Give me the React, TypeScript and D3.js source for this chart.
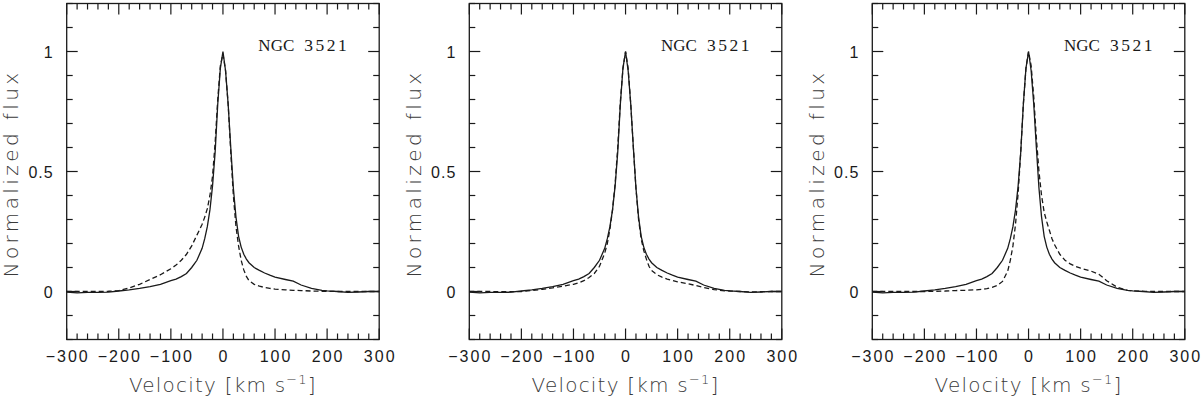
import * as d3 from "d3";

// velocity grid in km/s shared by all profiles
const velocity = [
  -300, -280, -260, -240, -220, -200, -180, -160, -140, -120, -100, -90, -80, -70, -60, -50, -40, -35, -30, -25,
  -20, -15, -10, -5, 0, 5, 10, 15, 20, 25, 30, 35, 40, 45, 50, 60, 70, 80, 90, 100, 120, 135, 150, 170, 190, 200,
  220, 240, 260, 280, 300,
];

// observed profile (solid), same in every panel
const observed = [
  -0.003, -0.006, -0.004, -0.004, -0.003, 0.002, 0.007, 0.013, 0.02, 0.03, 0.045, 0.052, 0.062, 0.075, 0.1, 0.13,
  0.18, 0.22, 0.27, 0.34, 0.44, 0.58, 0.78, 0.93, 1.0, 0.92, 0.78, 0.6, 0.43, 0.31, 0.23, 0.185, 0.155, 0.135, 0.12,
  0.1, 0.088, 0.077, 0.068, 0.06, 0.05, 0.043, 0.027, 0.013, 0.005, 0.003, 0.0, -0.004, -0.002, 0.0, 0.0,
];

// model profiles (dashed), one per panel
const model1 = [
  0, 0, 0, 0, 0.001, 0.004, 0.015, 0.03, 0.05, 0.07, 0.095, 0.11, 0.13, 0.155, 0.19, 0.235, 0.28, 0.31, 0.345, 0.4,
  0.48, 0.62, 0.8, 0.94, 0.99, 0.92, 0.78, 0.58, 0.4, 0.27, 0.19, 0.13, 0.09, 0.063, 0.045, 0.03, 0.022, 0.017,
  0.013, 0.01, 0.007, 0.005, 0.004, 0.002, 0.001, 0.001, 0, 0, 0, 0, 0,
];
const model2 = [
  0, 0, 0, -0.001, -0.001, 0, 0.004, 0.009, 0.015, 0.022, 0.03, 0.036, 0.045, 0.058, 0.075, 0.105, 0.16, 0.2, 0.26,
  0.34, 0.45, 0.6, 0.79, 0.93, 1.0, 0.93, 0.78, 0.6, 0.43, 0.3, 0.22, 0.17, 0.135, 0.105, 0.088, 0.07, 0.06, 0.052,
  0.046, 0.04, 0.032, 0.025, 0.017, 0.008, 0.003, 0.002, 0, -0.002, -0.001, 0, 0,
];
const model3 = [
  0, 0, 0, 0, 0, 0, 0.001, 0.002, 0.004, 0.005, 0.007, 0.009, 0.012, 0.017, 0.025, 0.042, 0.085, 0.13, 0.19, 0.28,
  0.41, 0.58, 0.78, 0.93, 1.0, 0.94, 0.81, 0.64, 0.5, 0.4, 0.33, 0.29, 0.255, 0.22, 0.195, 0.155, 0.13, 0.115, 0.105,
  0.097, 0.085, 0.072, 0.045, 0.018, 0.005, 0.003, 0.001, 0, 0, 0, 0,
];

const xLabels = [-300, -200, -100, 0, 100, 200, 300];
const yLabels = [0, 0.5, 1];
const galaxyName = ["NGC", "3521"];

const W = 1203;
const H = 397;
const panelLefts = [66.7, 469.3, 872.3];
const panelW = 312.5;
const top = 3.5;
const bottom = 339.5;
const ink = "#1a1a1a";
const sans = "'Liberation Sans', Arial, sans-serif";
const thin = "'DejaVu Sans', sans-serif";
const serif = "'Liberation Serif', 'Times New Roman', serif";

function Panel({ left, model }: { left: number; model: number[] }) {
  const x = d3.scaleLinear().domain([-300, 300]).range([left, left + panelW]);
  const y = d3.scaleLinear().domain([-0.2, 1.2]).range([bottom, top]);
  const idx = d3.range(velocity.length);
  const line = (vals: number[]) =>
    d3
      .line<number>()
      .x((i) => x(velocity[i]))
      .y((i) => y(vals[i]))(idx) || "";

  const xMinor = d3.range(-300, 301, 20);
  const yMinor = d3.range(-2, 13).map((k) => k / 10);

  return (
    <g>
      {xMinor.map((v) => {
        const major = v % 100 === 0;
        const len = major ? 11 : 6;
        return (
          <g key={"x" + v} stroke={ink} strokeWidth={1.2}>
            <line x1={x(v)} x2={x(v)} y1={bottom} y2={bottom - len} />
            <line x1={x(v)} x2={x(v)} y1={top} y2={top + len} />
          </g>
        );
      })}
      {yMinor.map((t) => {
        const major = Math.abs((t * 10) % 5) < 1e-6;
        const len = major ? 11 : 6;
        return (
          <g key={"y" + t} stroke={ink} strokeWidth={1.2}>
            <line x1={left} x2={left + len} y1={y(t)} y2={y(t)} />
            <line x1={left + panelW} x2={left + panelW - len} y1={y(t)} y2={y(t)} />
          </g>
        );
      })}
      <rect x={left} y={top} width={panelW} height={bottom - top} fill="none" stroke={ink} strokeWidth={1.3} />

      <path d={line(model)} fill="none" stroke={ink} strokeWidth={1.3} strokeDasharray="5,3" />
      <path d={line(observed)} fill="none" stroke={ink} strokeWidth={1.3} />

      {xLabels.map((v) => (
        <text
          key={"xl" + v}
          x={x(v) + 1}
          y={362}
          textAnchor="middle"
          fontFamily={sans}
          fontSize={16}
          letterSpacing={2}
          fill={ink}
        >
          {v < 0 ? "\u2212" + Math.abs(v) : String(v)}
        </text>
      ))}
      {yLabels.map((t) => (
        <text
          key={"yl" + t}
          x={left - 13}
          y={y(t) + 6}
          textAnchor="end"
          fontFamily={sans}
          fontSize={16}
          letterSpacing={1}
          fill={ink}
        >
          {String(t)}
        </text>
      ))}

      <text x={x(68)} y={50.7} fontFamily={serif} fontSize={17} fill={ink}>
        {galaxyName[0]}
      </text>
      <text x={x(68) + 46} y={50.7} fontFamily={serif} fontSize={17.5} letterSpacing={2.5} fill={ink}>
        {galaxyName[1]}
      </text>

      <text
        x={left + panelW / 2}
        y={391.5}
        textAnchor="middle"
        fontFamily={thin}
        fontWeight={200}
        fontSize={20}
        letterSpacing={1.2}
        fill="#3a3a3a"
      >
        Velocity [km s
        <tspan fontSize={13} dy={-8}>
          −1
        </tspan>
        <tspan dy={8}>]</tspan>
      </text>
      <text
        transform={`translate(${left - 48.5},${(top + bottom) / 2 + 2}) rotate(-90)`}
        textAnchor="middle"
        fontFamily={thin}
        fontWeight={200}
        fontSize={20}
        letterSpacing={3.4}
        fill="#3a3a3a"
      >
        Normalized flux
      </text>
    </g>
  );
}

export default function App() {
  const models = [model1, model2, model3];
  return (
    <svg width={W} height={H} style={{ position: "absolute", left: 0, top: 0, background: "#fff" }}>
      {panelLefts.map((l, i) => (
        <Panel key={i} left={l} model={models[i]} />
      ))}
    </svg>
  );
}
